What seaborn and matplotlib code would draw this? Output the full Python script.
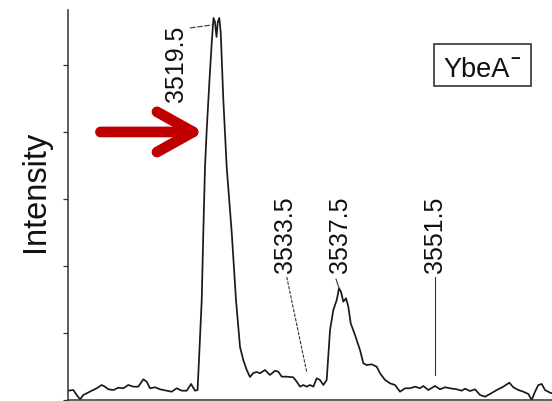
import numpy as np
import pandas as pd
import matplotlib
matplotlib.use("Agg")
import matplotlib.pyplot as plt
from matplotlib.patches import Rectangle
import seaborn as sns

# ---- data ----
mz = [3497.86, 3498.64, 3499.13, 3499.62, 3500.10, 3500.60, 3501.33, 3502.06, 3502.79, 3503.27,
      3503.75, 3504.49, 3505.22, 3505.95, 3506.68, 3507.41, 3508.14, 3508.87, 3509.37, 3509.85,
      3510.58, 3511.31, 3512.29, 3513.02, 3513.75, 3514.49, 3515.22, 3515.85, 3516.43, 3516.80,
      3517.01, 3517.41, 3517.64, 3517.89, 3518.14, 3518.52, 3518.87, 3519.13, 3519.35, 3519.57,
      3519.76, 3519.98, 3520.19, 3520.57, 3521.06, 3521.80, 3522.42, 3523.01, 3523.49, 3523.99,
      3524.47, 3524.95, 3525.45, 3525.93, 3526.66, 3527.39, 3528.13, 3528.61, 3529.11, 3529.84,
      3530.80, 3531.30, 3531.78, 3532.26, 3532.76, 3533.24, 3533.73, 3534.22, 3534.70, 3535.19,
      3535.68, 3536.17, 3536.65, 3537.15, 3537.48, 3537.77, 3538.11, 3538.51, 3538.84, 3539.19,
      3539.82, 3540.55, 3541.04, 3541.53, 3542.26, 3542.99, 3543.48, 3544.21, 3544.94, 3545.67,
      3546.40, 3547.13, 3547.86, 3548.59, 3549.32, 3549.81, 3550.54, 3551.52, 3552.25, 3552.98,
      3553.71, 3554.69, 3555.42, 3555.90, 3556.63, 3557.37, 3558.10, 3558.83, 3559.56, 3560.54,
      3561.50, 3562.38, 3562.96, 3563.70, 3564.43, 3565.16, 3565.65, 3566.14, 3566.62, 3567.12,
      3567.60, 3568.33, 3568.62]
intensity = [0.139, 0.149, 0.075, 0.010, 0.075, 0.100, 0.139, 0.175, 0.224, 0.199,
             0.160, 0.149, 0.184, 0.175, 0.224, 0.199, 0.199, 0.309, 0.273, 0.175,
             0.190, 0.160, 0.139, 0.124, 0.175, 0.139, 0.139, 0.239, 0.139, 0.149,
             0.597, 1.493, 2.493, 3.478, 4.030, 4.731, 5.328, 5.701, 5.642, 5.418,
             5.642, 5.701, 5.478, 4.478, 3.478, 2.493, 1.493, 0.791, 0.597, 0.448,
             0.343, 0.403, 0.418, 0.399, 0.448, 0.373, 0.437, 0.422, 0.348, 0.348,
             0.339, 0.273, 0.199, 0.224, 0.199, 0.224, 0.199, 0.324, 0.299, 0.224,
             0.299, 1.045, 1.343, 1.493, 1.667, 1.616, 1.467, 1.518, 1.393, 1.145,
             0.970, 0.746, 0.548, 0.522, 0.533, 0.497, 0.399, 0.299, 0.249, 0.224,
             0.124, 0.175, 0.175, 0.199, 0.175, 0.209, 0.149, 0.209, 0.160, 0.190,
             0.175, 0.160, 0.139, 0.169, 0.134, 0.160, 0.075, 0.049, 0.090, 0.149,
             0.199, 0.258, 0.190, 0.149, 0.124, 0.090, 0.000, 0.124, 0.224, 0.239,
             0.149, 0.109, 0.100]

peak_labels = ["3519.5", "3533.5", "3537.5", "3551.5"]
label_x = [3514.68, 3530.57, 3538.61, 3552.50]   # text baseline position
label_y = [4.448, 1.896, 1.896, 1.896]            # text start
leader_start = [(3515.70, 5.552), (3529.84, 1.836), (3537.04, 1.806), (3551.52, 1.836)]
leader_end = [(3518.92, 5.597), (3532.76, 0.418), (3537.48, 1.670), (3551.52, 0.373)]
leader_style = [(0, (5, 1.5)), (0, (3, 1.2)), "-", "-"]

y_ticks = [0, 1, 2, 3, 4, 5]
x_limits = (3497.86, 3568.62)
y_limits = (0, 5.82)
arrow_from = (3502.6, 4.0)
arrow_to = (3517.75, 4.0)
species = "YbeA"

# ---- style ----
sns.set_style("white")
plt.rcParams["font.family"] = ["Liberation Sans", "DejaVu Sans"]

fig = plt.figure(figsize=(5.52, 4.01), dpi=100)
ax = fig.add_axes([68 / 552, 1 / 401, 1 - 68 / 552, 390 / 401])

df = pd.DataFrame({"mz": mz, "intensity": intensity})
sns.lineplot(data=df, x="mz", y="intensity", ax=ax, sort=False, estimator=None,
             color="#1a1a1a", linewidth=1.25)

ax.set_xlim(*x_limits)
ax.set_ylim(*y_limits)
ax.set_yticks(y_ticks)
ax.set_yticklabels([])
ax.set_xticks([])
ax.set_xlabel("")
ax.set_ylabel("")
ax.tick_params(axis="y", direction="out", length=3.5, width=0.9, color="#333333", left=True)
for side in ["top", "right"]:
    ax.spines[side].set_visible(False)
for side in ["left", "bottom"]:
    ax.spines[side].set_color("#333333")
    ax.spines[side].set_linewidth(1.1)

# peak labels and leader lines
for lab, lx, ly, (x0, y0), (x1, y1), ls in zip(peak_labels, label_x, label_y,
                                              leader_start, leader_end, leader_style):
    ax.text(lx, ly, lab, rotation=90, rotation_mode="anchor", ha="left", va="baseline",
            fontsize=18, color="#111111")
    ax.plot([x0, x1], [y0, y1], color="#333333", linewidth=0.8, linestyle=ls)

# red arrow
ax.annotate("", xy=arrow_to, xytext=arrow_from,
            arrowprops=dict(arrowstyle="->,head_length=2.6,head_width=1.45",
                            mutation_scale=10, lw=7.7, color="#c00000",
                            shrinkA=0, shrinkB=0, capstyle="round", joinstyle="round"))

# y label
fig.text(43.5 / 552, 1 - 191 / 401, "Intensity", rotation=90, rotation_mode="anchor",
         ha="center", va="baseline", fontsize=23.5, color="#111111")

# boxed species label
fig.patches.append(Rectangle((434 / 552, 1 - 86 / 401), 97 / 552, 42 / 401,
                             transform=fig.transFigure, fill=False,
                             edgecolor="#333333", linewidth=1.2))
fig.text(443 / 552, 1 - 77 / 401, species, ha="left", va="baseline",
         fontsize=19.5, color="#111111")
fig.text(510.5 / 552, 1 - 64 / 401, "\u2212", ha="left", va="baseline",
         fontsize=12, fontweight="bold", color="#111111")

fig.savefig("out.png", dpi=100)
